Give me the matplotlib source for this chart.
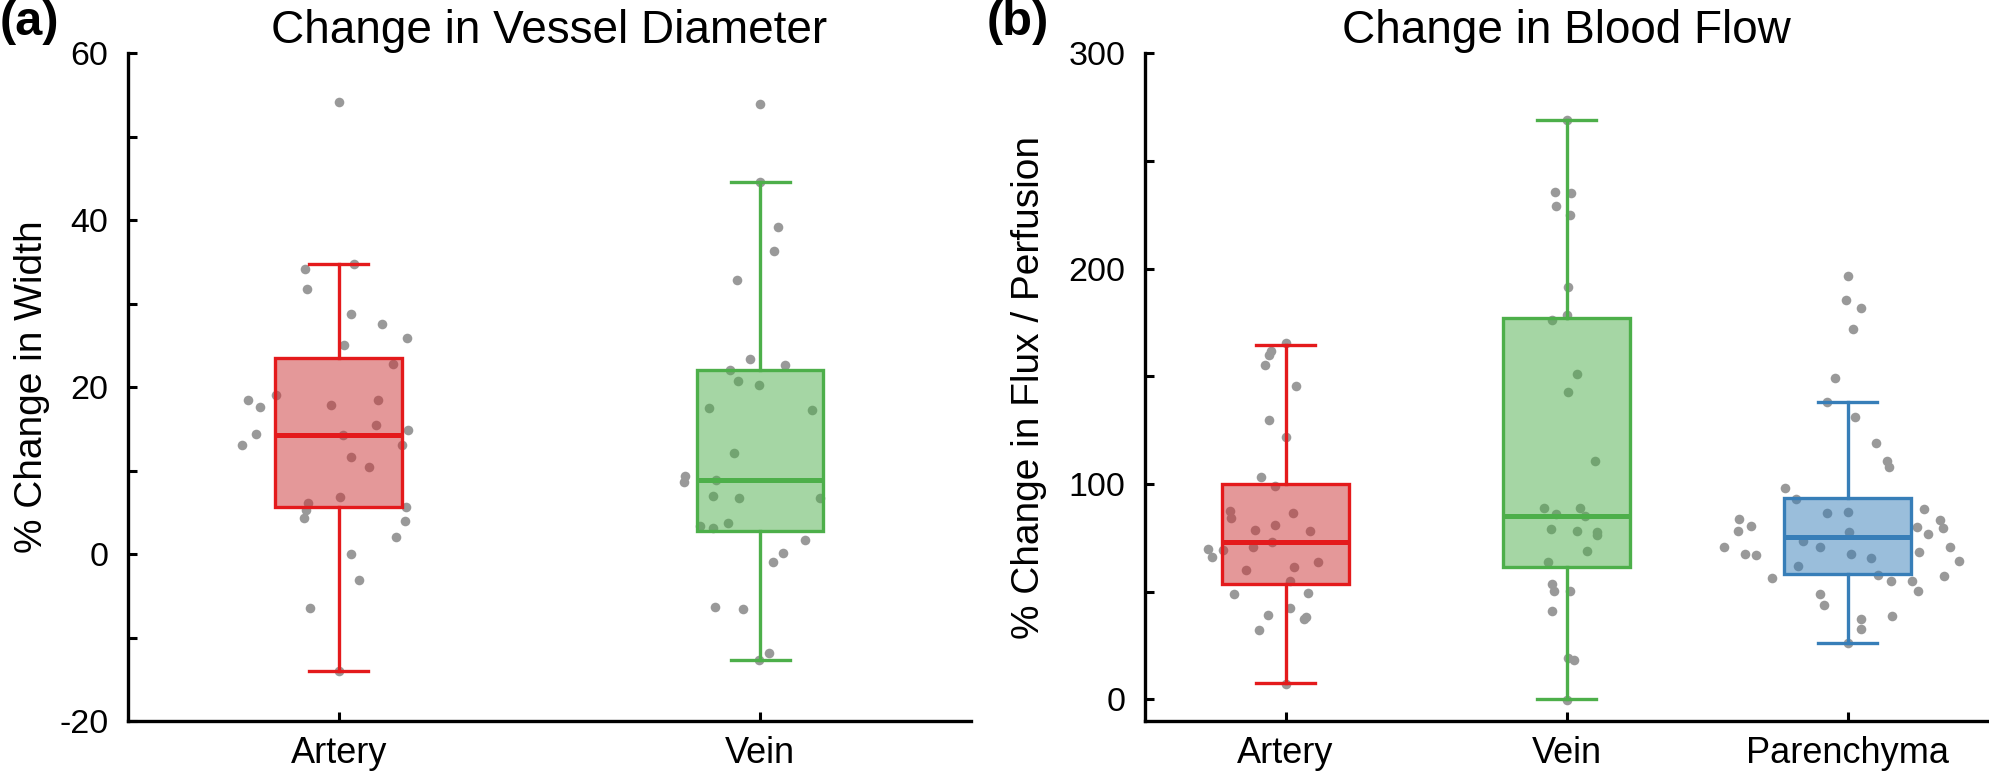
import numpy as np
import matplotlib
matplotlib.use("Agg")
from matplotlib import pyplot as plt
from matplotlib.colors import to_rgba
from matplotlib.ticker import MultipleLocator

plt.rcParams['font.family'] = ['Liberation Sans', 'DejaVu Sans']
plt.rcParams['axes.unicode_minus'] = False

# ---- data ----
width_cats = ['Artery', 'Vein']
flow_cats = ['Artery', 'Vein', 'Parenchyma']

# box summaries: whislo, q1, med, q3, whishi
width_stats = [(-14.0, 5.6, 14.3, 23.5, 34.7),
               (-12.7, 2.7, 8.9, 22.0, 44.5)]
flow_stats = [(7.5, 53.6, 73.2, 100.0, 164.7),
              (0.0, 61.3, 85.1, 176.9, 269.1),
              (26.0, 58.2, 75.5, 93.3, 138.2)]

# individual points (value, horizontal jitter)
art_w = [54.1, 34.1, 34.7, 31.8, 28.7, 27.6, 25.9, 25.0, 22.8, 18.5, 19.0, 18.5,
         17.6, 17.8, 15.5, 14.8, 14.4, 14.2, 13.0, 13.0, 11.6, 10.4, 6.8, 6.1,
         5.3, 5.6, 4.3, 4.0, 2.0, 0.0, -3.1, -6.5, -14.0]
art_w_jit = [0.0, -0.079, 0.036, -0.075, 0.030, 0.103, 0.163, 0.013, 0.129, -0.215,
             -0.149, 0.094, -0.187, -0.019, 0.088, 0.164, -0.196, 0.011, -0.229, 0.151,
             0.029, 0.073, 0.002, -0.072, -0.077, 0.160, -0.083, 0.157, 0.137, 0.029,
             0.047, -0.069, 0.0]
vein_w = [53.9, 44.5, 39.2, 36.3, 32.8, 23.3, 22.6, 22.0, 20.7, 20.3, 17.5, 17.3,
          12.1, 9.3, 8.9, 8.6, 7.0, 6.7, 6.7, 3.7, 3.4, 3.1, 1.7, 0.1, -1.0,
          -6.3, -6.6, -11.9, -12.7]
vein_w_jit = [0.0, 0.0, 0.043, 0.033, -0.055, -0.024, 0.059, -0.071, -0.053, -0.002,
              -0.122, 0.122, -0.063, -0.178, -0.104, -0.180, -0.112, -0.051, 0.141,
              -0.077, -0.142, -0.111, 0.107, 0.055, 0.030, -0.108, -0.041, 0.020, -0.002]

art_f = [165.3, 161.9, 159.9, 155.2, 145.5, 129.6, 122.0, 103.3, 98.9, 87.5, 84.4,
         86.7, 81.0, 78.8, 78.2, 72.9, 69.7, 66.3, 69.2, 70.6, 63.6, 61.3, 60.1,
         55.1, 48.9, 49.2, 42.6, 39.0, 38.2, 37.5, 32.2, 7.4]
art_f_jit = [0.0, -0.052, -0.058, -0.072, 0.036, -0.058, 0.0, -0.088, -0.036, -0.198,
             -0.193, 0.025, -0.038, -0.108, 0.088, -0.049, -0.276, -0.261, -0.222,
             -0.117, 0.115, 0.031, -0.142, 0.016, -0.182, 0.079, 0.016, -0.061, 0.074,
             0.065, -0.094, 0.0]
vein_f = [269.1, 235.6, 235.2, 228.9, 224.8, 191.2, 178.4, 176.1, 151.1, 142.6,
          110.8, 89.0, 88.9, 86.2, 85.1, 79.1, 78.2, 77.9, 76.3, 69.0, 63.9, 53.6,
          50.5, 50.3, 41.2, 19.3, 18.3, -0.3]
vein_f_jit = [0.0, -0.040, 0.016, -0.036, 0.013, 0.007, 0.002, -0.052, 0.038, 0.004,
              0.101, -0.079, 0.047, -0.038, 0.067, -0.054, 0.038, 0.110, 0.110, 0.074,
              -0.067, -0.052, -0.045, 0.013, -0.052, 0.004, 0.027, 0.0]
par_f = [196.6, 185.3, 181.9, 171.9, 149.2, 138.2, 131.0, 119.0, 110.7, 107.7, 98.0,
         93.0, 88.2, 86.4, 86.8, 83.9, 83.4, 80.7, 80.2, 79.7, 78.2, 77.7, 76.8,
         73.7, 70.9, 70.6, 70.6, 68.6, 67.6, 67.0, 67.5, 65.8, 64.2, 61.8, 58.0,
         57.4, 56.5, 55.0, 55.0, 50.2, 48.9, 43.7, 38.7, 37.2, 32.5, 26.0]
par_f_jit = [0.002, -0.004, 0.049, 0.020, -0.043, -0.074, 0.027, 0.103, 0.139, 0.146,
             -0.222, -0.184, 0.272, -0.072, 0.0, -0.387, 0.330, -0.342, 0.247, 0.339,
             -0.389, 0.007, 0.288, -0.157, -0.440, -0.097, 0.364, 0.254, -0.366,
             -0.324, 0.013, 0.085, 0.396, -0.175, 0.110, 0.342, -0.270, 0.155, 0.229,
             0.252, -0.099, -0.083, 0.157, 0.047, 0.047, 0.0]

edge_cols = ['#e41a1c', '#4daf4a', '#377eb8']
face_cols = ['#cb3335', '#4daf4a', '#377eb8']
pt_col = '#999999'


def make_stats(rows):
    out = []
    for lo, q1, med, q3, hi in rows:
        out.append(dict(whislo=lo, q1=q1, med=med, q3=q3, whishi=hi, fliers=[]))
    return out


def draw_panel(ax, stats, groups, cats, bw, cw):
    pos = np.arange(1, len(cats) + 1)
    for p, (vals, jit) in zip(pos, groups):
        ax.scatter(p + np.array(jit), vals, s=48, color=pt_col, lw=0, zorder=1)
    bp = ax.bxp(make_stats(stats), positions=pos, widths=bw, capwidths=cw,
                patch_artist=True, showfliers=False, manage_ticks=False, zorder=2)
    for i in range(len(cats)):
        c = edge_cols[i]
        bp['boxes'][i].set(facecolor=to_rgba(face_cols[i], 0.5), edgecolor=c,
                           linewidth=2.4, zorder=2)
        bp['medians'][i].set(color=c, linewidth=3.6, zorder=3)
        for ln in bp['whiskers'][2 * i:2 * i + 2] + bp['caps'][2 * i:2 * i + 2]:
            ln.set(color=c, linewidth=2.4, zorder=2)
    ax.set_xticks(pos)
    ax.set_xticklabels(cats)
    ax.set_xlim(0.5, len(cats) + 0.5)
    for s in ['top', 'right']:
        ax.spines[s].set_visible(False)
    for s in ['left', 'bottom']:
        ax.spines[s].set_linewidth(2.4)
    ax.tick_params(axis='both', which='both', direction='in', width=2.2, length=6.5)
    ax.tick_params(axis='y', pad=14, labelsize=24.5)
    ax.tick_params(axis='x', pad=11, labelsize=26)


fig = plt.figure(figsize=(19.9, 7.8), dpi=100)
ax1 = fig.add_axes([0.0643, 0.0756, 0.4236, 0.8564])
ax2 = fig.add_axes([0.5754, 0.0756, 0.4236, 0.8564])

draw_panel(ax1, width_stats, [(art_w, art_w_jit), (vein_w, vein_w_jit)],
           width_cats, 0.30, 0.14)
ax1.set_ylim(-20, 60)
ax1.yaxis.set_major_locator(MultipleLocator(20))
ax1.yaxis.set_minor_locator(MultipleLocator(10))
ax1.set_ylabel('% Change in Width', fontsize=28)
ax1.yaxis.set_label_coords(-0.093, 0.5)
ax1.set_title('Change in Vessel Diameter', fontsize=33, pad=3)

draw_panel(ax2, flow_stats, [(art_f, art_f_jit), (vein_f, vein_f_jit),
                             (par_f, par_f_jit)], flow_cats, 0.45, 0.21)
ax2.set_ylim(-10, 300)
ax2.yaxis.set_major_locator(MultipleLocator(100))
ax2.yaxis.set_minor_locator(MultipleLocator(50))
ax2.set_ylabel('% Change in Flux / Perfusion', fontsize=28)
ax2.yaxis.set_label_coords(-0.116, 0.5)
ax2.set_title('Change in Blood Flow', fontsize=33, pad=3)

fig.text(0.0, 1.0, '(a)', fontsize=35, fontweight='bold', ha='left', va='top')
fig.text(0.496, 1.0, '(b)', fontsize=35, fontweight='bold', ha='left', va='top')

fig.savefig('out.png', dpi=100)
